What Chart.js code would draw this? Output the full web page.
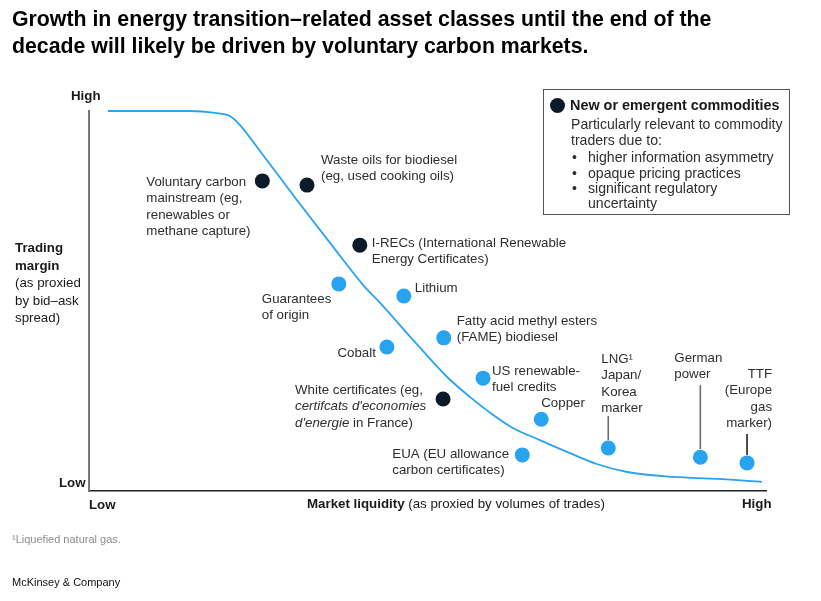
<!DOCTYPE html>
<html>
<head>
<meta charset="utf-8">
<script src="https://cdn.jsdelivr.net/npm/chart.js@4.4.1/dist/chart.umd.min.js"></script>
<style>
  body { margin: 0; background: #fff; font-family: "Liberation Sans", Arial, sans-serif; color: #1a1a1a; }
  #wrap { position: relative; width: 821px; height: 601px; overflow: hidden; background: #fff; }
  #box { position: absolute; left: 0; top: 0; width: 821px; height: 601px; }
  .t { position: absolute; white-space: nowrap; font-size: 13.3px; line-height: 16px; }
  .b { font-weight: bold; }
  .lg { color: #2e2e2e; font-size: 14.1px; }
  .title { left: 12px; top: 6px; font-size: 21.3px; line-height: 27px; font-weight: bold; color: #000; }
  .legend { position: absolute; left: 543px; top: 89px; width: 247px; height: 126px; box-sizing: border-box; border: 1px solid #555; }
  .dot { position: absolute; width: 15px; height: 15px; border-radius: 50%; background: #0c1a2a; }
</style>
</head>
<body>
<div id="wrap">
  <div id="box"><canvas id="chart"></canvas></div>

  <div class="t title">Growth in energy transition–related asset classes until the end of the<br>decade will likely be driven by voluntary carbon markets.</div>

  <div class="t" style="left:15px;top:239px;line-height:17.5px"><span class="b">Trading<br>margin</span><br>(as proxied<br>by bid–ask<br>spread)</div>
  <div class="t b" style="left:71px;top:88px">High</div>
  <div class="t b" style="left:59px;top:475px">Low</div>
  <div class="t b" style="left:89px;top:497px">Low</div>
  <div class="t" style="left:307px;top:496px"><span class="b">Market liquidity</span> (as proxied by volumes of trades)</div>
  <div class="t b" style="left:742px;top:496px">High</div>

  <div class="legend"></div>
  <div class="dot" style="left:549.5px;top:97.5px"></div>
  <div class="t b" style="left:570px;top:97px;font-size:14.4px">New or emergent commodities</div>
  <div class="t lg" style="left:571px;top:117px;line-height:15.7px">Particularly relevant to commodity<br>traders due to:</div>
  <div class="t lg" style="left:572px;top:149px">•</div><div class="t lg" style="left:588px;top:149px">higher information asymmetry</div>
  <div class="t lg" style="left:572px;top:165px">•</div><div class="t lg" style="left:588px;top:165px">opaque pricing practices</div>
  <div class="t lg" style="left:572px;top:180px">•</div><div class="t lg" style="left:588px;top:180px">significant regulatory</div>
  <div class="t lg" style="left:588px;top:195px">uncertainty</div>

  <div class="t" style="left:12px;top:532px;font-size:11px;line-height:14px;color:#8c8c8c">¹Liquefied natural gas.</div>
  <div class="t" style="left:12px;top:575px;font-size:11px;line-height:14px;color:#111">McKinsey &amp; Company</div>
</div>

<script>
// curve: trading margin vs market liquidity (0 = low, 100 = high)
const curveX = [2.8, 14.9, 18.6, 20.8, 22.3, 25.7, 30.7, 35.6, 40.5, 43.0, 47.9, 52.9, 56.3, 59.7, 62.6, 66.6, 70.6, 75.0, 79.5, 86.3, 92.8, 99.4];
const curveY = [100, 100, 99.5, 98.7, 96.3, 88.4, 76.6, 65.3, 54.2, 49.5, 39.7, 30.0, 24.7, 20.0, 16.6, 13.4, 10.3, 7.1, 5.0, 3.7, 3.2, 2.4];

// new or emergent commodities (dark dots)
const emergentNames = [
  "Voluntary carbon\nmainstream (eg,\nrenewables or\nmethane capture)",
  "Waste oils for biodiesel\n(eg, used cooking oils)",
  "I-RECs (International Renewable\nEnergy Certificates)",
  "White certificates (eg,\ncertifcats d'economies\nd'energie in France)"
];
const emergentX = [25.6, 32.2, 40.0, 52.3];
const emergentY = [81.6, 80.5, 64.7, 24.2];

// other commodities (blue dots)
const otherNames = [
  "Guarantees\nof origin",
  "Lithium",
  "Cobalt",
  "Fatty acid methyl esters\n(FAME) biodiesel",
  "US renewable-\nfuel credits",
  "Copper",
  "EUA (EU allowance\ncarbon certificates)",
  "LNG¹\nJapan/\nKorea\nmarker",
  "German\npower",
  "TTF\n(Europe\ngas\nmarker)"
];
const otherX = [36.9, 46.5, 44.0, 52.4, 58.2, 66.8, 64.0, 76.7, 90.3, 97.2];
const otherY = [54.5, 51.3, 37.9, 40.3, 29.7, 18.9, 9.5, 11.3, 8.9, 7.4];

// label placement relative to each point (pixels)
const emergentLayout = [
  { dx: -116, dy: 1, align: "left" },
  { dx: 14, dy: -25, align: "left" },
  { dx: 12, dy: -2, align: "left" },
  { dx: -148, dy: -9, align: "left", italic: ["certifcats d'economies", "d'energie"] }
];
const otherLayout = [
  { dx: -77, dy: 15, align: "left" },
  { dx: 11, dy: -8, align: "left" },
  { dx: -11, dy: 6, align: "right" },
  { dx: 13, dy: -17, align: "left" },
  { dx: 9, dy: -7, align: "left" },
  { dx: 0, dy: -16, align: "left" },
  { dx: -130, dy: -1, align: "left" },
  { dx: -7, dy: -89, align: "left", leader: [-32, -8], leaderColor: "#6b6b6b" },
  { dx: -26, dy: -99, align: "left", leader: [-72, -8], leaderColor: "#6b6b6b" },
  { dx: 25, dy: -89, align: "right", leader: [-29, -8], leaderColor: "#222" }
];

const BLUE = "#28a3ef";
const DARK = "#0c1a2a";
const FONT = "Liberation Sans, Arial, sans-serif";
const LINE_H = 16.5;

const groups = [
  { names: emergentNames, x: emergentX, y: emergentY, layout: emergentLayout },
  { names: otherNames, x: otherX, y: otherY, layout: otherLayout }
];

function toPoints(xs, ys) {
  return xs.map((v, i) => ({ x: v, y: ys[i] }));
}

// split a line into plain / italic pieces
function segments(line, italic) {
  if (!italic) return [[line, false]];
  for (const phrase of italic) {
    const k = line.indexOf(phrase);
    if (k >= 0) {
      const out = [];
      if (k > 0) out.push([line.slice(0, k), false]);
      out.push([phrase, true]);
      if (k + phrase.length < line.length) out.push([line.slice(k + phrase.length), false]);
      return out;
    }
  }
  return [[line, false]];
}

const pointLabels = {
  id: "pointLabels",
  beforeDatasetsDraw(chart) {
    const ctx = chart.ctx;
    const xs = chart.scales.x, ys = chart.scales.y;
    ctx.save();
    groups.forEach(g => g.names.forEach((name, i) => {
      const lay = g.layout[i];
      if (!lay.leader) return;
      const px = xs.getPixelForValue(g.x[i]);
      const py = ys.getPixelForValue(g.y[i]);
      ctx.strokeStyle = lay.leaderColor;
      ctx.lineWidth = 1.6;
      ctx.beginPath();
      ctx.moveTo(px, py + lay.leader[0]);
      ctx.lineTo(px, py + lay.leader[1]);
      ctx.stroke();
    }));
    ctx.restore();
  },
  afterDatasetsDraw(chart) {
    const ctx = chart.ctx;
    const xs = chart.scales.x, ys = chart.scales.y;
    ctx.save();
    ctx.textBaseline = "middle";
    ctx.fillStyle = "#2e2e2e";
    groups.forEach(g => g.names.forEach((name, i) => {
      const lay = g.layout[i];
      const px = xs.getPixelForValue(g.x[i]);
      const py = ys.getPixelForValue(g.y[i]);
      name.split("\n").forEach((line, j) => {
        const parts = segments(line, lay.italic);
        let w = 0;
        parts.forEach(p => {
          ctx.font = (p[1] ? "italic " : "") + "13.3px " + FONT;
          w += ctx.measureText(p[0]).width;
        });
        let x = px + lay.dx - (lay.align === "right" ? w : 0);
        const y = py + lay.dy + j * LINE_H;
        parts.forEach(p => {
          ctx.font = (p[1] ? "italic " : "") + "13.3px " + FONT;
          ctx.fillText(p[0], x, y);
          x += ctx.measureText(p[0]).width;
        });
      });
    }));
    ctx.restore();
  }
};

new Chart(document.getElementById("chart"), {
  type: "scatter",
  data: {
    datasets: [
      {
        label: "New or emergent commodities",
        data: toPoints(emergentX, emergentY),
        backgroundColor: DARK,
        pointRadius: 7.5,
        pointBorderWidth: 0,
        clip: false
      },
      {
        label: "Other commodities",
        data: toPoints(otherX, otherY),
        backgroundColor: BLUE,
        pointRadius: 7.5,
        pointBorderWidth: 0,
        clip: false
      },
      {
        label: "Trend",
        type: "line",
        data: toPoints(curveX, curveY),
        borderColor: BLUE,
        borderWidth: 1.8,
        pointRadius: 0,
        cubicInterpolationMode: "monotone",
        fill: false,
        clip: false
      }
    ]
  },
  options: {
    responsive: true,
    maintainAspectRatio: false,
    animation: false,
    layout: { padding: { left: 89, right: 55, top: 111, bottom: 110 } },
    plugins: { legend: { display: false }, tooltip: { enabled: false } },
    scales: {
      x: {
        type: "linear", min: 0, max: 100,
        ticks: { display: false },
        grid: { display: false },
        border: { display: true, color: "#222", width: 1.5 },
        afterFit(scale) { scale.height = 0; }
      },
      y: {
        type: "linear", min: 0, max: 100,
        ticks: { display: false },
        grid: { display: false },
        border: { display: true, color: "#777", width: 2 },
        afterFit(scale) { scale.width = 0; }
      }
    }
  },
  plugins: [pointLabels]
});
</script>
</body>
</html>
